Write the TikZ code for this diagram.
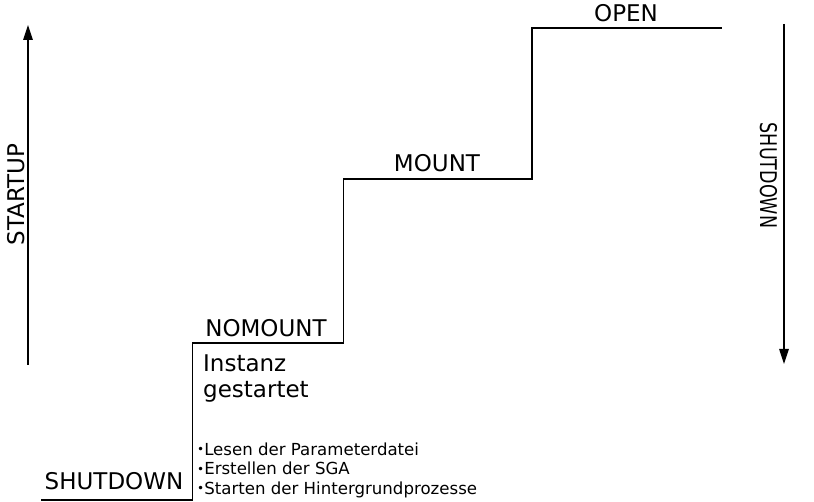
\documentclass[tikz,border=0pt]{standalone}
\usepackage{fontspec}
\setmainfont{DejaVu Sans}
\usetikzlibrary{arrows.meta}
\tikzset{
  big/.style={font=\fontsize{23}{27}\selectfont, inner sep=0pt, anchor=base},
  small/.style={font=\fontsize{16.6}{19.5}\selectfont, inner sep=0pt, anchor=base west},
  stair/.style={line width=1.2pt},
  dirarrow/.style={line width=1.2pt, -{Triangle[length=15pt,width=9.5pt]}}
}
\newcommand{\smallbul}{{\fontsize{12}{12}\selectfont\raisebox{0.2ex}{•}}}
\begin{document}
\begin{tikzpicture}[x=1pt,y=-1pt]
\useasboundingbox (0,0) rectangle (814,502);
% stair
\coordinate (s0) at (41,500);
\coordinate (s1) at (192.5,500);
\coordinate (s2) at (192.5,343);
\coordinate (s3) at (343.5,343);
\coordinate (s4) at (343.5,179);
\coordinate (s5) at (532,179);
\coordinate (s6) at (532,28);
\coordinate (s7) at (722,28);
\draw[stair] (s0) -- (s1) -- (s2) -- (s3) -- (s4) -- (s5) -- (s6) -- (s7);
% labels
\node[big] (open) at (626,22) {OPEN};
\node[big] (mount) at (437,172) {MOUNT};
\node[big] (nomount) at (266,337) {NOMOUNT};
\node[big] (shut) at (114,489) {SHUTDOWN};
\node[big, anchor=base west] (inst1) at (203,372) {Instanz};
\node[big, anchor=base west] (inst2) at (203,398) {gestartet};
\node[small] (b1) at (197,455) {\smallbul Lesen der Parameterdatei};
\node[small] (b2) at (197,475) {\smallbul Erstellen der SGA};
\node[small] (b3) at (197,494) {\smallbul Starten der Hintergrundprozesse};
% direction arrows
\coordinate (su0) at (28,365);
\coordinate (su1) at (28,25);
\draw[dirarrow] (su0) -- (su1);
\node[big, rotate=90] (startup) at (24,194.5) {STARTUP};
\coordinate (sd0) at (784,24);
\coordinate (sd1) at (784,364);
\draw[dirarrow] (sd0) -- (sd1);
\node[big, rotate=-90] (shutdown) at (760,175.5) {\scalebox{0.76}[1]{SHUTDOWN}};
\end{tikzpicture}
\end{document}
